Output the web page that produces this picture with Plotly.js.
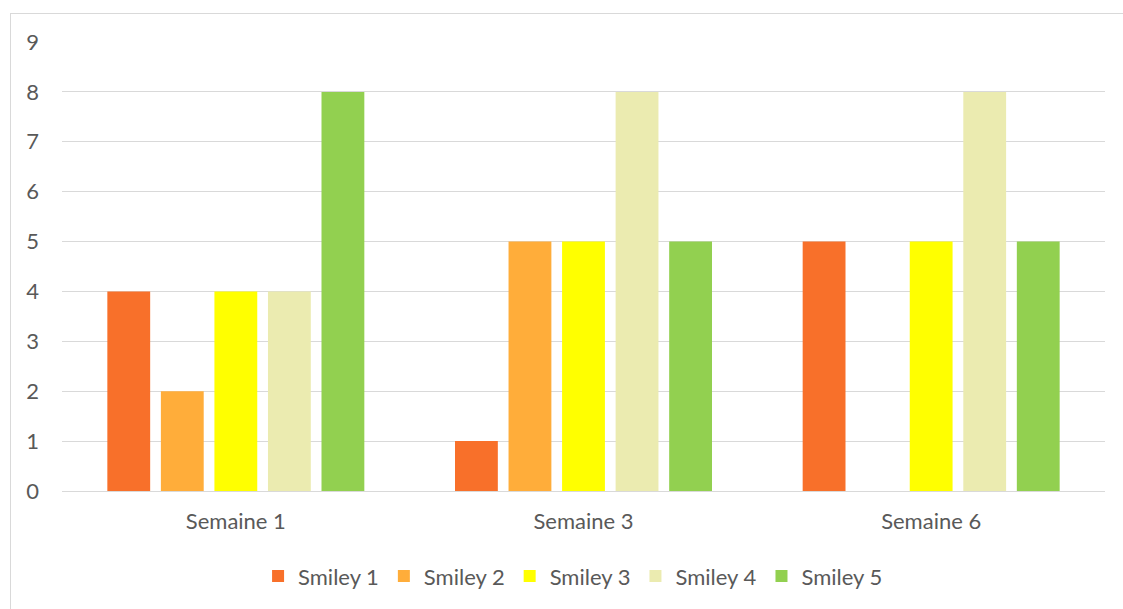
<!DOCTYPE html>
<html>
<head>
<meta charset="utf-8">
<script src="https://cdn.plot.ly/plotly-3.0.1.min.js"></script>
<style>
  html, body { margin: 0; padding: 0; background: #fff; overflow: hidden; }
  #wrap { position: relative; width: 1123px; height: 609px; }
  #chart { position: absolute; left: 0; top: 0; width: 1123px; height: 609px; }
  #frame { position: absolute; left: 10px; top: 13px; width: 1200px; height: 700px;
           border-left: 1px solid #d9d9d9; border-top: 1px solid #d9d9d9; pointer-events: none; }
</style>
</head>
<body>
<div id="wrap">
  <div id="chart"></div>
  <div id="frame"></div>
</div>
<script>
const categories = ["Semaine 1", "Semaine 3", "Semaine 6"];
const seriesNames = ["Smiley 1", "Smiley 2", "Smiley 3", "Smiley 4", "Smiley 5"];
const smiley1 = [4, 1, 5];
const smiley2 = [2, 5, 0];
const smiley3 = [4, 5, 5];
const smiley4 = [4, 8, 8];
const smiley5 = [8, 5, 5];
const yTicks = [0, 1, 2, 3, 4, 5, 6, 7, 8, 9];

const seriesValues = [smiley1, smiley2, smiley3, smiley4, smiley5];
const colors = ["#F8702A", "#FFAD3A", "#FFFF00", "#EBEBB0", "#92D050"];

const traces = seriesValues.map((vals, i) => ({
  type: "bar",
  name: seriesNames[i],
  x: categories,
  y: vals,
  marker: { color: colors[i], line: { width: 0 } },
  hoverinfo: "x+y+name"
}));

const fam = "Lato, 'Open Sans', sans-serif";

const layout = {
  width: 1123,
  height: 609,
  margin: { l: 62, r: 18, t: 42, b: 118 },
  paper_bgcolor: "rgba(0,0,0,0)",
  plot_bgcolor: "#fff",
  barmode: "group",
  bargap: 0.23,
  bargroupgap: 0.2,
  font: { family: fam, color: "#595959", size: 22 },
  showlegend: true,
  legend: {
    orientation: "h",
    x: 0.49, xanchor: "center",
    y: -0.19, yanchor: "middle",
    font: { family: fam, color: "#595959", size: 22 },
    itemwidth: 30,
    traceorder: "normal"
  },
  xaxis: {
    type: "category",
    showgrid: false,
    zeroline: false,
    showline: false,
    ticks: "",
    ticklabelstandoff: 15,
    tickfont: { family: fam, color: "#595959", size: 22 }
  },
  yaxis: {
    range: [0, 9],
    tickmode: "array",
    tickvals: yTicks,
    ticktext: yTicks.map(String),
    showgrid: true,
    gridcolor: "#d9d9d9",
    gridwidth: 1,
    zeroline: true,
    zerolinecolor: "#d9d9d9",
    zerolinewidth: 1,
    showline: false,
    ticks: "",
    ticklabelstandoff: 22,
    tickfont: { family: fam, color: "#595959", size: 22 }
  }
};

Plotly.newPlot("chart", traces, layout, { displayModeBar: false, staticPlot: true });
</script>
</body>
</html>
